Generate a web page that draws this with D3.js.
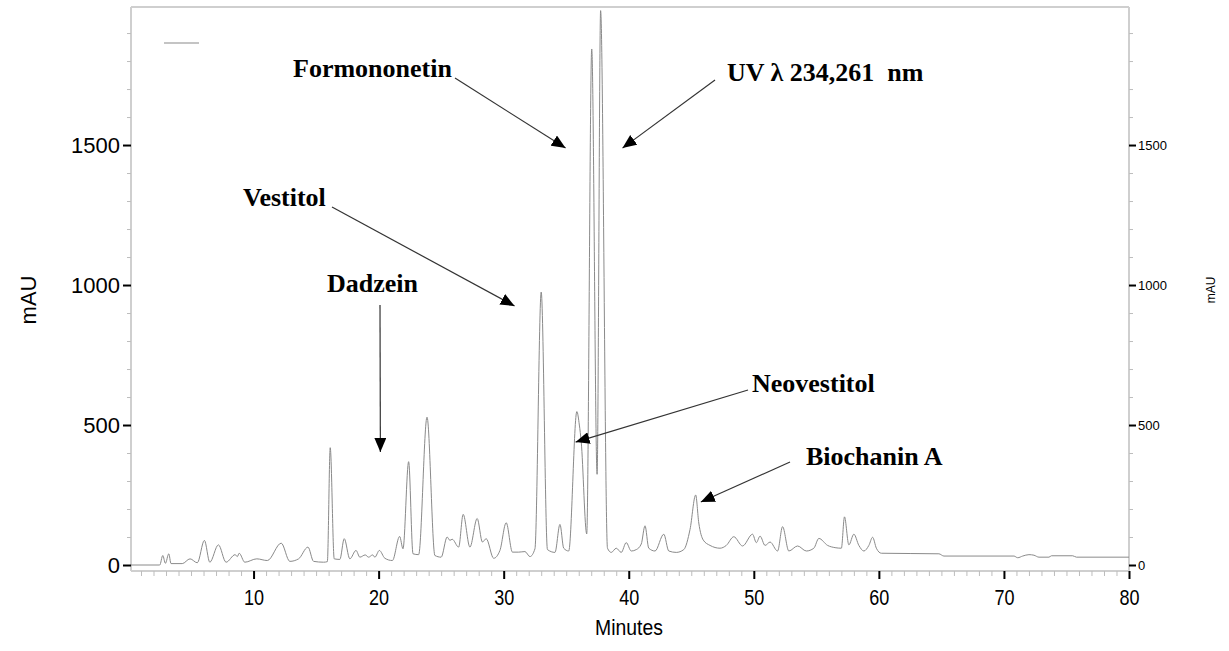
<!DOCTYPE html>
<html>
<head>
<meta charset="utf-8">
<script src="https://cdn.jsdelivr.net/npm/d3@7/dist/d3.min.js"></script>
<style>
  body { margin: 0; background: #fff; }
  svg { display: block; }
  .trace { fill: none; stroke: #8a8a8a; stroke-width: 1; }
  .frame { stroke: #cfcfcf; stroke-width: 2; }
  .anno-text { font-family: "Liberation Serif", "Times New Roman", serif; font-weight: bold; font-size: 26px; fill: #000; white-space: pre; }
  .anno-line { stroke: #333; stroke-width: 1.2; fill: none; }
</style>
</head>
<body>
<svg id="chart-svg" width="1229" height="651"></svg>
<script>

// Chromatogram trace (minutes, mAU)
const traceTime = [
  0.2, 2.5, 2.74, 2.95, 3.22, 3.4, 4.3, 4.92, 5.5, 6.07, 6.5, 7.19, 7.8, 8.53, 8.7, 8.85, 9.3, 10.26, 11.1,
  12.21, 12.9, 13.6, 14.35, 14.8, 15.6, 15.9, 16.13, 16.45, 16.9, 17.25, 17.7, 18.19, 18.5, 18.93, 19.2, 19.52,
  19.7, 20.06, 20.5, 21.1, 21.68, 21.95, 22.4, 22.75, 23.2, 23.87, 24.5, 25.0, 25.48, 25.7, 25.88, 26.4, 26.76,
  27.3, 27.88, 28.3, 28.6, 29.2, 29.7, 30.2, 30.7, 31.2, 31.7, 32.1, 32.5, 33.0, 33.5, 34.1, 34.5, 34.8, 35.2,
  35.85, 36.05, 36.2, 36.64, 37.04, 37.47, 37.75, 38.3, 38.6, 39.0, 39.4, 39.8, 40.2, 40.6, 41.0, 41.3, 41.6,
  42.1, 42.8, 43.2, 43.8, 44.4, 44.9, 45.35, 45.6, 45.96, 46.5, 47.3, 47.8, 48.4, 49.1, 49.9, 50.2, 50.5, 50.9,
  51.3, 51.9, 52.3, 52.8, 53.5, 54.2, 54.8, 55.2, 55.9, 56.5, 57.0, 57.25, 57.6, 58.0, 58.4, 58.8, 59.2, 59.5,
  59.8, 60.2, 64.8, 65.2, 70.8, 71.1, 71.5, 72.0, 72.4, 72.8, 73.6, 73.8, 75.5, 75.8, 80
];
const traceMAU = [
  0, 0, 34, 6, 40, 5, 5, 22, 8, 88, 10, 72, 10, 37, 30, 42, 10, 22, 16,
  78, 13, 22, 64, 13, 10, 12, 419, 22, 20, 94, 22, 52, 28, 36, 28, 36,
  28, 52, 24, 16, 102, 58, 369, 40, 37, 528, 34, 28, 100, 88, 92, 64, 181,
  64, 166, 82, 94, 24, 52, 151, 46, 46, 48, 30, 58, 975, 55, 45, 145, 60, 50,
  548, 500, 440, 111, 1843, 324, 1980, 60, 45, 60, 45, 80, 50, 55, 75, 140, 60,
  50, 110, 50, 45, 55, 127, 250, 150, 89, 70, 60, 70, 101, 68, 110, 80, 103, 70,
  82, 50, 137, 50, 68, 50, 60, 95, 70, 62, 60, 172, 72, 110, 70, 50, 70, 99,
  60, 42, 40, 32, 32, 26, 32, 37, 35, 28, 28, 33, 33, 28, 28
];

// Axis ticks
const xMajorTicks = [10, 20, 30, 40, 50, 60, 70, 80];
const xMinorTicks = d3.range(1, 80).filter(d => d % 10 !== 0);
const yMajorTicks = [0, 500, 1000, 1500];
const yMinorTicks = d3.range(100, 2000, 100).filter(d => d % 500 !== 0);

// Peak annotations: label and the point (minutes, mAU) the arrow points at
const annoLabels = ["Formononetin", "UV \u03bb 234,261 \u00a0nm", "Vestitol", "Dadzein", "Neovestitol", "Biochanin A"];
const annoTipTime = [34.95, 39.5, 30.87, 20.14, 35.75, 45.76];
const annoTipMAU = [1489, 1489, 925, 404, 439, 225];

// Label placement in pixels (text left, text baseline, arrow start x, arrow start y)
const annoLayout = [
  [293, 77, 455, 78],
  [727, 81, 715, 80],
  [243, 206, 332, 207],
  [327, 292, 380, 305],
  [752, 392, 748, 390],
  [806, 465, 790, 462]
];

const plot = { left: 131, right: 1129, top: 7, bottom: 571 };

/**
 * Render the chromatogram
 */
function renderChart() {

  const svg = d3.select("#chart-svg");

  const x = d3.scaleLinear().domain([0.2, 80]).range([plot.left, plot.right]);
  const y = d3.scaleLinear().domain([-21.4, 1993]).range([plot.bottom, plot.top]);
  const fmt = d3.format("d");

  // Frame
  svg.append("line").attr("class", "frame")
    .attr("x1", plot.left).attr("x2", plot.right).attr("y1", plot.top).attr("y2", plot.top);
  svg.append("line").attr("class", "frame")
    .attr("x1", plot.left).attr("x2", plot.left).attr("y1", plot.top).attr("y2", plot.bottom);
  svg.append("line").attr("class", "frame")
    .attr("x1", plot.right).attr("x2", plot.right).attr("y1", plot.top).attr("y2", plot.bottom);
  svg.append("line").attr("class", "frame")
    .attr("x1", plot.left).attr("x2", plot.right).attr("y1", plot.bottom).attr("y2", plot.bottom);

  // Minor ticks
  const minorX = svg.append("g").attr("transform", "translate(0," + plot.bottom + ")")
    .call(d3.axisBottom(x).tickValues(xMinorTicks).tickSize(5).tickFormat(""));
  const minorL = svg.append("g").attr("transform", "translate(" + plot.left + ",0)")
    .call(d3.axisLeft(y).tickValues(yMinorTicks).tickSize(4).tickFormat(""));
  const minorR = svg.append("g").attr("transform", "translate(" + plot.right + ",0)")
    .call(d3.axisRight(y).tickValues(yMinorTicks).tickSize(4).tickFormat(""));
  [minorX, minorL, minorR].forEach(g => {
    g.select(".domain").remove();
    g.selectAll("line").attr("stroke", "#bdbdbd");
  });

  // Major ticks and labels
  const xAxis = svg.append("g").attr("transform", "translate(0," + plot.bottom + ")")
    .call(d3.axisBottom(x).tickValues(xMajorTicks).tickSize(8).tickPadding(10).tickFormat(fmt));
  xAxis.selectAll("text")
    .attr("font-family", "Liberation Sans, Arial, sans-serif")
    .attr("font-size", 22)
    .attr("dy", "0.71em")
    .attr("transform", "scale(0.82,1)");

  const yAxis = svg.append("g").attr("transform", "translate(" + plot.left + ",0)")
    .call(d3.axisLeft(y).tickValues(yMajorTicks).tickSize(8).tickPadding(3).tickFormat(fmt));
  yAxis.selectAll("text")
    .attr("font-family", "Liberation Sans, Arial, sans-serif")
    .attr("font-size", 22);

  const yAxisR = svg.append("g").attr("transform", "translate(" + plot.right + ",0)")
    .call(d3.axisRight(y).tickValues(yMajorTicks).tickSize(7).tickPadding(2).tickFormat(fmt));
  yAxisR.selectAll("text")
    .attr("font-family", "Liberation Sans, Arial, sans-serif")
    .attr("font-size", 13);

  [xAxis, yAxis, yAxisR].forEach(g => {
    g.select(".domain").remove();
    g.selectAll("line").attr("stroke", "#000").attr("stroke-width", 2);
  });

  // Axis titles
  svg.append("text")
    .attr("transform", "translate(629,635) scale(0.88,1)")
    .attr("text-anchor", "middle")
    .attr("font-family", "Liberation Sans, Arial, sans-serif")
    .attr("font-size", 22)
    .text("Minutes");

  svg.append("text")
    .attr("transform", "translate(36,300) rotate(-90)")
    .attr("text-anchor", "middle")
    .attr("font-family", "Liberation Sans, Arial, sans-serif")
    .attr("font-size", 22)
    .text("mAU");

  svg.append("text")
    .attr("transform", "translate(1215,290) rotate(-90)")
    .attr("text-anchor", "middle")
    .attr("font-family", "Liberation Sans, Arial, sans-serif")
    .attr("font-size", 12)
    .text("mAU");

  // Legend stub
  svg.append("line")
    .attr("x1", 164).attr("x2", 199).attr("y1", 43).attr("y2", 43)
    .attr("stroke", "#8a8a8a").attr("stroke-width", 1.2);

  // Trace
  const line = d3.line()
    .x(i => x(traceTime[i]))
    .y(i => y(traceMAU[i]))
    .curve(d3.curveMonotoneX);

  svg.append("path")
    .attr("class", "trace")
    .attr("d", line(d3.range(traceTime.length)));

  // Annotations
  svg.append("defs").append("marker")
    .attr("id", "arrow")
    .attr("markerUnits", "userSpaceOnUse")
    .attr("viewBox", "0 0 14 12")
    .attr("markerWidth", 14)
    .attr("markerHeight", 12)
    .attr("refX", 14)
    .attr("refY", 6)
    .attr("orient", "auto")
    .append("path")
    .attr("d", "M0,0L14,6L0,12Z")
    .attr("fill", "#000");

  annoLabels.forEach((label, i) => {
    const lay = annoLayout[i];
    svg.append("text")
      .attr("class", "anno-text")
      .attr("x", lay[0])
      .attr("y", lay[1])
      .text(label);
    svg.append("line")
      .attr("class", "anno-line")
      .attr("x1", lay[2]).attr("y1", lay[3])
      .attr("x2", x(annoTipTime[i])).attr("y2", y(annoTipMAU[i]))
      .attr("marker-end", "url(#arrow)");
  });
}

renderChart();
</script>
</body>
</html>
